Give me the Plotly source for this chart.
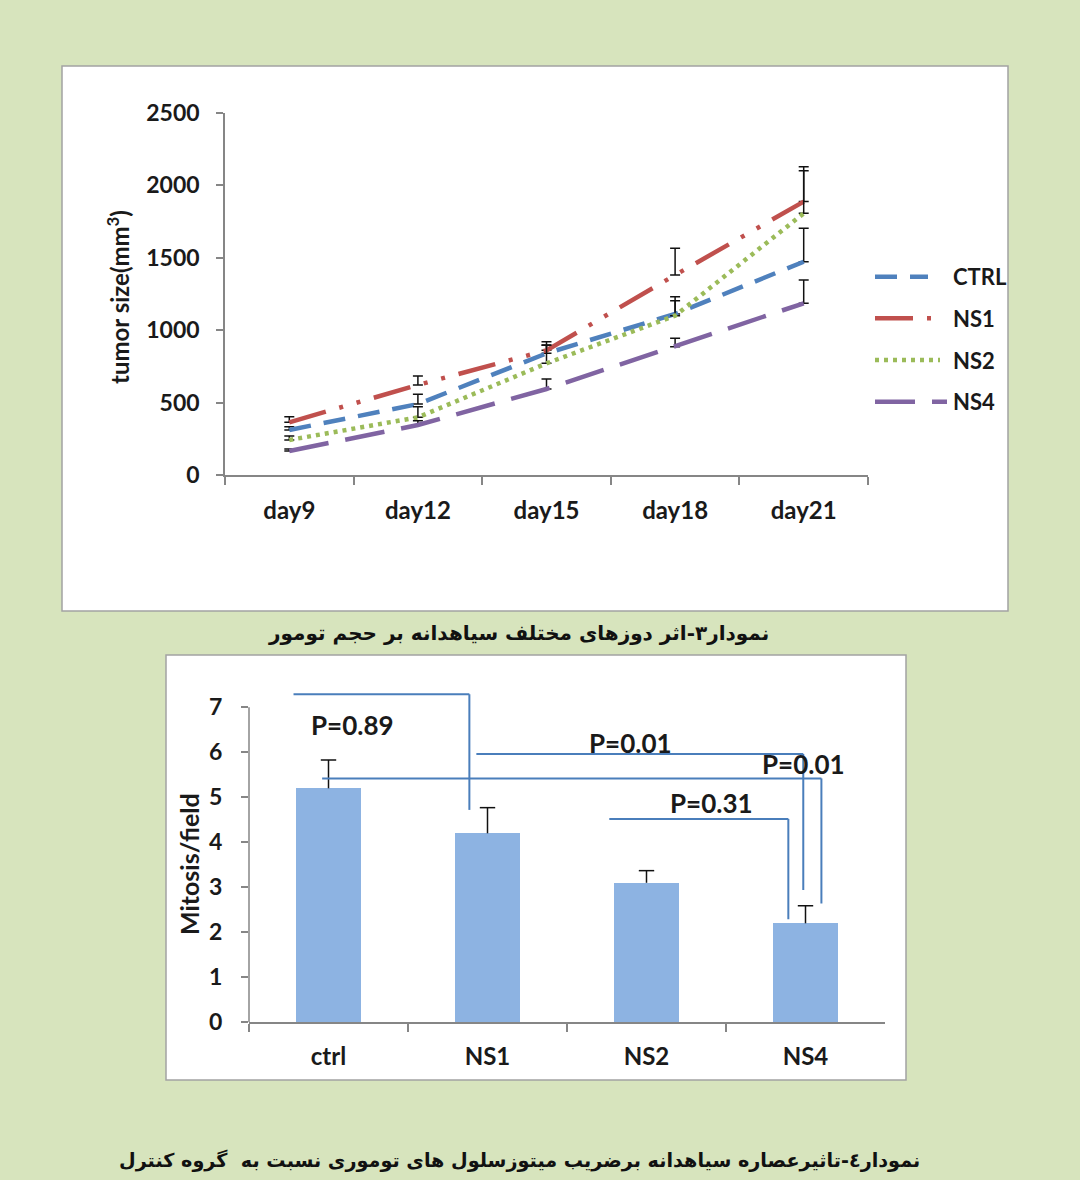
import plotly.graph_objects as go

# ---------------- data: tumour volume over time ----------------
days = ["day9", "day12", "day15", "day18", "day21"]
ctrl_size = [311, 490, 840, 1112, 1473]
ctrl_err = [23, 67, 58, 119, 231]
ns1_size = [364, 622, 861, 1381, 1888]
ns1_err = [39, 62, 60, 185, 241]
ns2_size = [242, 398, 771, 1100, 1807]
ns2_err = [27, 74, 125, 104, 295]
ns4_size = [166, 345, 594, 886, 1186]
ns4_err = [14, 30, 69, 58, 161]
size_ticks = [0, 500, 1000, 1500, 2000, 2500]

# ---------------- data: mitosis per field ----------------
groups = ["ctrl", "NS1", "NS2", "NS4"]
mitosis = [5.2, 4.2, 3.1, 2.2]
mitosis_err = [0.63, 0.57, 0.27, 0.39]
mitosis_ticks = [0, 1, 2, 3, 4, 5, 6, 7]

# significance brackets: (label, label x, label y, path points in (category index, value))
brackets = [
    ("P=0.89", 0.15, 6.6, [(-0.22, 7.29), (0.886, 7.29), (0.886, 4.72)]),
    ("P=0.01", 1.90, 6.2, [(0.93, 5.96), (2.986, 5.96), (2.986, 2.94)]),
    ("P=0.01", 2.99, 5.73, [(-0.04, 5.42), (3.10, 5.42), (3.10, 2.64)]),
    ("P=0.31", 2.41, 4.87, [(1.766, 4.52), (2.892, 4.52), (2.892, 2.29)]),
]

caption_top = "نمودار۳-اثر دوزهای مختلف سیاهدانه بر حجم تومور"
caption_bottom = "نمودار٤-تاثیرعصاره سیاهدانه برضریب میتوزسلول های توموری نسبت به  گروه کنترل"

W, H = 1080, 1180
BG = "#d7e4bd"
AXIS = "#868686"
INK = "#1a1a1a"
LATIN = "Lato, 'Open Sans', sans-serif"
ARABIC = "'DejaVu Sans', sans-serif"

series = [
    ("CTRL", ctrl_size, ctrl_err, "#4f81bd", "22px,13px", 53),
    ("NS1", ns1_size, ns1_err, "#c0504d", "38px,14px,4px,14px,4px,14px", 63),
    ("NS2", ns2_size, ns2_err, "#9bbb59", "4px,5px", 65),
    ("NS4", ns4_size, ns4_err, "#8064a2", "40px,17px", 72),
]


def px(x):
    return x / W


def py(y):
    return 1 - y / H


def bold(size, family=LATIN, color=INK):
    return dict(size=size, color=color, family=family, weight="bold")


fig = go.Figure()

# line chart with upward error bars
for name, vals, err, color, dash, _ in series:
    fig.add_trace(go.Scatter(
        x=days, y=vals, mode="lines", name=name, showlegend=False,
        line=dict(color=color, width=4.5, dash=dash),
        error_y=dict(type="data", array=err, arrayminus=[0] * len(err),
                     symmetric=False, color="#111111", thickness=1.5, width=5),
        xaxis="x", yaxis="y",
    ))

# legend swatches drawn on their own small axis
for i, (name, vals, err, color, dash, length) in enumerate(series):
    fig.add_trace(go.Scatter(
        x=[0, length], y=[i, i], mode="lines", showlegend=False,
        line=dict(color=color, width=4.5, dash=dash),
        xaxis="x3", yaxis="y3", hoverinfo="skip",
    ))

# bar chart
fig.add_trace(go.Bar(
    x=groups, y=mitosis, width=0.41, marker=dict(color="#8db3e2", line=dict(width=0)),
    showlegend=False, xaxis="x2", yaxis="y2",
))

# upward whiskers for the bars
stem_x, stem_y = [], []
for g, v, e in zip(groups, mitosis, mitosis_err):
    stem_x += [g, g, None]
    stem_y += [v, v + e, None]
fig.add_trace(go.Scatter(
    x=stem_x, y=stem_y, mode="lines", showlegend=False,
    line=dict(color="#111111", width=1.5), xaxis="x2", yaxis="y2",
))
fig.add_trace(go.Scatter(
    x=groups, y=[v + e for v, e in zip(mitosis, mitosis_err)], mode="markers",
    showlegend=False,
    marker=dict(symbol="line-ew", size=11, line=dict(color="#111111", width=1.5)),
    xaxis="x2", yaxis="y2",
))

shapes = [
    # white chart panels
    dict(type="rect", xref="paper", yref="paper", x0=px(62), x1=px(1008), y0=py(611), y1=py(66),
         fillcolor="white", line=dict(color="#a3a3a3", width=1.5), layer="below"),
    dict(type="rect", xref="paper", yref="paper", x0=px(166), x1=px(906), y0=py(1080), y1=py(655),
         fillcolor="white", line=dict(color="#a3a3a3", width=1.5), layer="below"),
    # value axis line of the bar chart, stopping at the top tick
    dict(type="line", xref="x2 domain", yref="y2", x0=0, x1=0, y0=0, y1=7,
         line=dict(color=AXIS, width=1.5)),
]

# significance brackets as connected line segments on the bar chart axes
for label, lx, ly, pts in brackets:
    for (xa, ya), (xb, yb) in zip(pts[:-1], pts[1:]):
        shapes.append(dict(type="line", xref="x2", yref="y2", x0=xa, y0=ya, x1=xb, y1=yb,
                           line=dict(color="#4a7ebb", width=2)))

annotations = []
for label, lx, ly, pts in brackets:
    annotations.append(dict(x=lx, y=ly, xref="x2", yref="y2", text=label, showarrow=False,
                            xanchor="center", yanchor="middle", font=bold(26)))

for i, (name, *_rest) in enumerate(series):
    annotations.append(dict(x=px(951), y=py(276.7 + 41.7 * i), xref="paper", yref="paper",
                            text=name, showarrow=False, xanchor="left", yanchor="middle",
                            font=bold(22)))

annotations += [
    dict(x=px(118), y=py(297), xref="paper", yref="paper", text="tumor size(mm<sup>3</sup>)",
         textangle=-90, showarrow=False, xanchor="center", yanchor="middle", font=bold(24)),
    dict(x=px(189), y=py(864), xref="paper", yref="paper", text="Mitosis/field",
         textangle=-90, showarrow=False, xanchor="center", yanchor="middle", font=bold(25)),
    dict(x=px(518), y=py(633), xref="paper", yref="paper", text=caption_top, showarrow=False,
         xanchor="center", yanchor="middle", font=bold(20, ARABIC, "#111111")),
    dict(x=px(519), y=py(1160), xref="paper", yref="paper", text=caption_bottom, showarrow=False,
         xanchor="center", yanchor="middle", font=bold(19.2, ARABIC, "#111111")),
]

fig.update_layout(
    template="none",
    width=W, height=H, margin=dict(l=0, r=0, t=0, b=0, pad=0), autosize=False,
    paper_bgcolor=BG, plot_bgcolor="rgba(0,0,0,0)",
    showlegend=False, bargap=0,
    shapes=shapes, annotations=annotations,
    xaxis=dict(domain=[px(225), px(868)], anchor="y", type="category", automargin=False,
               categoryorder="array", categoryarray=days, range=[-0.5, 4.5],
               showline=True, linecolor=AXIS, linewidth=1.5, ticks="outside",
               tickson="boundaries", ticklen=8, tickcolor=AXIS, tickwidth=1.5,
               tickfont=bold(24), ticklabelstandoff=13, showgrid=False, zeroline=False),
    yaxis=dict(domain=[py(475), py(113)], anchor="x", range=[0, 2500], automargin=False,
               tickvals=size_ticks, showline=True, linecolor=AXIS, linewidth=1.5,
               ticks="outside", ticklen=7, tickcolor=AXIS, tickwidth=1.5,
               tickfont=bold(23), ticklabelstandoff=12, showgrid=False, zeroline=False),
    xaxis2=dict(domain=[px(249), px(885)], anchor="y2", type="category", automargin=False,
                categoryorder="array", categoryarray=groups, range=[-0.5, 3.5],
                showline=True, linecolor=AXIS, linewidth=1.5, ticks="outside",
                tickson="boundaries", ticklen=8, tickcolor=AXIS, tickwidth=1.5,
                tickfont=bold(24), ticklabelstandoff=12, showgrid=False, zeroline=False),
    yaxis2=dict(domain=[py(1022.3), py(1022.3 - 7.4 * 45)], anchor="x2", range=[0, 7.4],
                automargin=False,
                tickvals=mitosis_ticks, showline=False, ticks="outside", ticklen=7,
                tickcolor=AXIS, tickwidth=1.5, tickfont=bold(23), ticklabelstandoff=14,
                showgrid=False, zeroline=False),
    xaxis3=dict(domain=[px(875), px(950)], anchor="y3", range=[0, 75], visible=False,
                automargin=False),
    yaxis3=dict(domain=[py(422.55), py(255.85)], anchor="x3", range=[3.5, -0.5], visible=False,
                automargin=False),
)

fig.write_html("out.html")
